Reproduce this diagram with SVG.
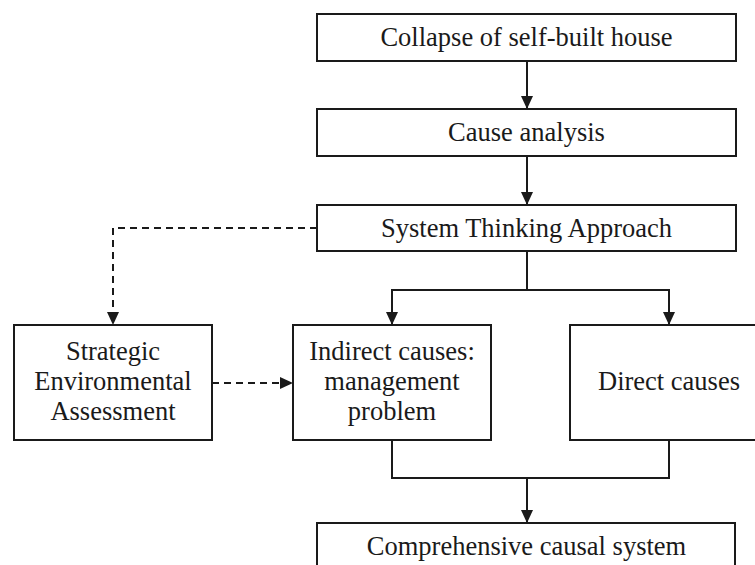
<svg xmlns="http://www.w3.org/2000/svg" width="755" height="565" viewBox="0 0 755 565">
  <style>
    .box { fill: #fff; stroke: #1a1a1a; stroke-width: 2; }
    .lbl { font-family: 'Liberation Serif', 'DejaVu Serif', serif; font-size: 26.5px; fill: #1a1a1a; text-anchor: middle; }
    .line { fill: none; stroke: #1a1a1a; stroke-width: 2; }
    .dash { stroke-dasharray: 7 5; }
  </style>
  <defs>
    <!-- filled triangular arrowhead, tip on the end point -->
    <marker id="arrow" viewBox="0 0 13 12" refX="13" refY="6" markerWidth="13" markerHeight="12" markerUnits="userSpaceOnUse" orient="auto">
      <path d="M0,0 L13,6 L0,12 Z" fill="#1a1a1a"/>
    </marker>
  </defs>
  <rect width="755" height="565" fill="#fff"/>

  <g id="connectors">
    <path class="line" d="M527,61 V109" marker-end="url(#arrow)"/>
    <path class="line" d="M527,156 V205" marker-end="url(#arrow)"/>
    <path class="line" d="M527,251 V290 H392 V325" marker-end="url(#arrow)"/>
    <path class="line" d="M527,290 H669 V325" marker-end="url(#arrow)"/>
    <path class="line dash" d="M317,228 H113 V325" marker-end="url(#arrow)"/>
    <path class="line dash" d="M212,383 H293" marker-end="url(#arrow)"/>
    <path class="line" d="M392,440 V478 H669 V440"/>
    <path class="line" d="M527,478 V523" marker-end="url(#arrow)"/>
  </g>

  <g id="collapse">
    <rect class="box" x="317" y="14" width="419" height="47"/>
    <text class="lbl" x="526.5" y="46">Collapse of self-built house</text>
  </g>
  <g id="cause-analysis">
    <rect class="box" x="317" y="109" width="419" height="47"/>
    <text class="lbl" x="526.5" y="141">Cause analysis</text>
  </g>
  <g id="system-thinking">
    <rect class="box" x="317" y="205" width="419" height="46"/>
    <text class="lbl" x="526.5" y="237">System Thinking Approach</text>
  </g>
  <g id="sea">
    <rect class="box" x="14" y="325" width="198" height="115"/>
    <text class="lbl" x="113" y="360">Strategic</text>
    <text class="lbl" x="113" y="390">Environmental</text>
    <text class="lbl" x="113" y="420">Assessment</text>
  </g>
  <g id="indirect">
    <rect class="box" x="293" y="325" width="198" height="115"/>
    <text class="lbl" x="392" y="360">Indirect causes:</text>
    <text class="lbl" x="392" y="390">management</text>
    <text class="lbl" x="392" y="420">problem</text>
  </g>
  <g id="direct">
    <rect class="box" x="570" y="325" width="200" height="115"/>
    <text class="lbl" x="669" y="390">Direct causes</text>
  </g>
  <g id="comprehensive">
    <rect class="box" x="317" y="523" width="418" height="60"/>
    <text class="lbl" x="526.5" y="555">Comprehensive causal system</text>
  </g>
</svg>
